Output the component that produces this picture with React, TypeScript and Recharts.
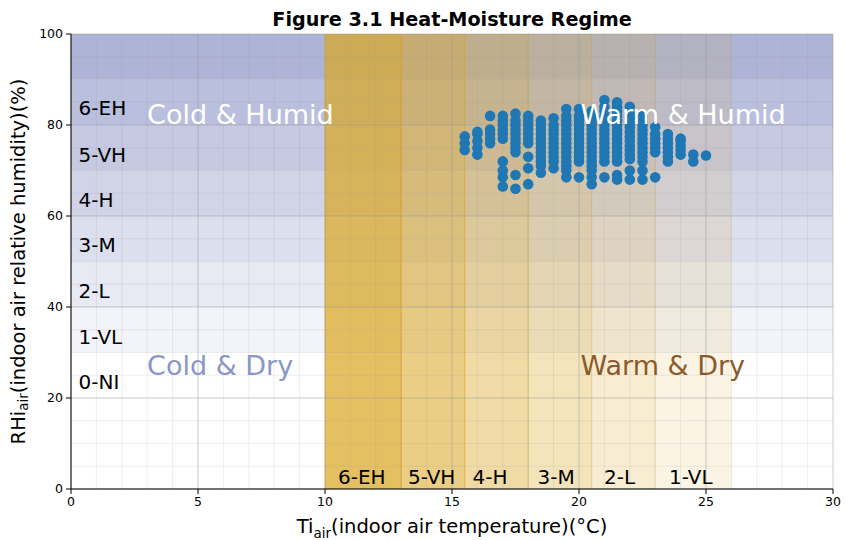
import React from 'react';
import {
  ComposedChart, Scatter, XAxis, YAxis, ReferenceArea, ReferenceLine,
} from 'recharts';

const FONT = '"DejaVu Sans", sans-serif';

// Scatter data: one column of RH readings per temperature
const temps = [15.5, 16, 16.5, 17, 17.5, 18, 18.5, 19, 19.5, 20, 20.5, 21, 21.5, 22, 22.5, 23, 23.5, 24, 24.5, 25];
const rhColumns = [
  [74.5, 76, 77.5],
  [73.5, 75, 76.5, 78, 78.5],
  [76, 77, 78, 79, 82],
  [66.5, 68.5, 70, 72, 77, 78, 79, 80, 81, 82],
  [66, 69, 74, 75, 76, 77, 78, 79, 80, 81, 82.5],
  [67, 70.5, 73, 76, 77, 78, 79, 80, 81, 82],
  [69.5, 71, 72, 73, 74, 75, 76, 77, 78, 79, 80, 81],
  [70.5, 72, 73, 74, 75, 76, 77, 78, 79, 80, 81.5],
  [68.5, 70, 71, 72, 73, 74, 75, 76, 77, 78, 79, 80, 81, 82, 83.5],
  [68.5, 72, 73, 74, 75, 76, 77, 78, 79, 80, 81, 82, 83.5],
  [67, 68.5, 70, 71, 72, 73, 74, 75, 76, 77, 78, 79, 80, 81, 82, 83],
  [68.5, 72, 73, 74, 75, 76, 77, 78, 79, 80, 81, 82, 83, 84, 85.5],
  [68, 69, 72, 73, 74, 75, 76, 77, 78, 79, 80, 81, 82, 83, 84, 85],
  [68, 70, 72.5, 73.5, 74.5, 75.5, 76.5, 77.5, 78.5, 79.5, 80.5, 81.5, 82.5, 84],
  [68, 70, 72, 73, 74, 75, 76, 77, 78, 79, 80, 81, 82],
  [68.5, 74, 75, 76, 77, 78, 79.5],
  [72, 73, 74, 75, 76, 77, 78],
  [73.5, 74.5, 75.5, 76.5, 77],
  [72, 73.5],
  [73.3],
];

// Humidity bands (RH %) and opacities
const rhBandEdges = [30, 40, 50, 60, 70, 80, 90, 100];
const rhBandAlpha = [0.1, 0.2, 0.3, 0.4, 0.5, 0.6, 0.7];
// Temperature bands (°C) and opacities
const tBandEdges = [10, 13, 15.5, 18, 20.5, 23, 26];
const tBandAlpha = [0.7, 0.55, 0.4, 0.3, 0.2, 0.12];

// Labels
const rhLevelLabels = ['0-NI', '1-VL', '2-L', '3-M', '4-H', '5-VH', '6-EH'];
const rhLevelY = [23.5, 33.4, 43.5, 53.6, 63.5, 73.4, 83.7];
const rhLevelX = 0.3;
const tLevelLabels = ['6-EH', '5-VH', '4-H', '3-M', '2-L', '1-VL'];
const tLevelX = [11.45, 14.2, 16.5, 19.1, 21.6, 24.4];
const tLevelY = 2.6;
const quadLabels = ['Cold & Humid', 'Warm & Humid', 'Cold & Dry', 'Warm & Dry'];
const quadX = [6.67, 24.1, 5.87, 23.3];
const quadY = [82.2, 82.2, 27.2, 27.2];
const quadColors = ['#ffffff', '#ffffff', '#8a96c8', '#8b5a2b'];

const xTicks = [0, 5, 10, 15, 20, 25, 30];
const yTicks = [0, 20, 40, 60, 80, 100];
const xMinor = [0, 1, 2, 3, 4, 5, 6, 7, 8, 9, 10, 11, 12, 13, 14, 15, 16, 17, 18, 19, 20, 21, 22, 23, 24, 25, 26, 27, 28, 29, 30];
const yMinor = [0, 5, 10, 15, 20, 25, 30, 35, 40, 45, 50, 55, 60, 65, 70, 75, 80, 85, 90, 95, 100];

const points = temps.flatMap((t, i) => rhColumns[i].map((rh) => ({ t, rh })));
const leftLabelData = rhLevelLabels.map((text, i) => ({ t: rhLevelX, rh: rhLevelY[i], text }));
const bottomLabelData = tLevelLabels.map((text, i) => ({ t: tLevelX[i], rh: tLevelY, text }));
const quadData = quadLabels.map((text, i) => ({ t: quadX[i], rh: quadY[i], text, color: quadColors[i] }));

const Dot = (p: any) => <circle cx={p.cx} cy={p.cy} r={5.3} fill="#1f77b4" />;

const LeftText = (p: any) => (
  <text x={p.cx} y={p.cy} dominantBaseline="central" textAnchor="start" fontSize={20} fontFamily={FONT} fill="#000">
    {p.payload.text}
  </text>
);
const BottomText = (p: any) => (
  <text x={p.cx} y={p.cy} dominantBaseline="central" textAnchor="middle" fontSize={20} fontFamily={FONT} fill="#000">
    {p.payload.text}
  </text>
);
const QuadText = (p: any) => (
  <text x={p.cx} y={p.cy} dominantBaseline="central" textAnchor="middle" fontSize={27} fontFamily={FONT} fill={p.payload.color}>
    {p.payload.text}
  </text>
);

const XLabel = (props: any) => {
  const vb = props.viewBox;
  return (
    <text x={vb.x + vb.width / 2} y={533} textAnchor="middle" fontSize={19.5} fontFamily={FONT} fill="#000">
      <tspan>Ti</tspan>
      <tspan fontSize={13.5} dy={5}>air</tspan>
      <tspan dy={-5}>(indoor air temperature)(°C)</tspan>
    </text>
  );
};
const YLabel = (props: any) => {
  const vb = props.viewBox;
  const cy = vb.y + vb.height / 2;
  return (
    <text x={18} y={cy} transform={`rotate(-90, 18, ${cy})`} textAnchor="middle" dominantBaseline="central" fontSize={19.5} fontFamily={FONT} fill="#000">
      <tspan>RHi</tspan>
      <tspan fontSize={13.5} dy={5}>air</tspan>
      <tspan dy={-5}>(indoor air relative humidity)(%)</tspan>
    </text>
  );
};

const tickStyle = { fontSize: 12.5, fontFamily: FONT, fill: '#000' };

export default function App() {
  return (
    <div style={{ position: 'absolute', left: 0, top: 0, width: 846, height: 540, background: '#fff' }}>
      <div style={{ position: 'absolute', left: 71, width: 762, top: 8, textAlign: 'center', fontFamily: FONT, fontWeight: 'bold', fontSize: 19.2, color: '#000' }}>
        Figure 3.1 Heat-Moisture Regime
      </div>
      <ComposedChart width={846} height={540} margin={{ top: 34, right: 13, left: 0, bottom: 0 }}>
        <XAxis xAxisId="minor" type="number" dataKey="t" domain={[0, 30]} ticks={xMinor} allowDataOverflow height={0}
          tickSize={3} tickFormatter={() => ''} axisLine={false} tickLine={{ stroke: '#000' }} />
        <XAxis type="number" dataKey="t" domain={[0, 30]} ticks={xTicks} allowDataOverflow height={51}
          tickSize={5} tickMargin={3} tick={tickStyle} axisLine={{ stroke: '#000' }} tickLine={{ stroke: '#000' }}
          label={<XLabel />} />
        <XAxis xAxisId="top" orientation="top" type="number" dataKey="t" domain={[0, 30]} allowDataOverflow height={0}
          tick={false} tickLine={false} axisLine={{ stroke: '#000' }} />
        <YAxis yAxisId="minor" type="number" dataKey="rh" domain={[0, 100]} ticks={yMinor} allowDataOverflow width={0}
          tickSize={3} tickFormatter={() => ''} axisLine={false} tickLine={{ stroke: '#000' }} />
        <YAxis type="number" dataKey="rh" domain={[0, 100]} ticks={yTicks} allowDataOverflow width={71}
          tickSize={5} tickMargin={3} tick={tickStyle} axisLine={{ stroke: '#000' }} tickLine={{ stroke: '#000' }}
          label={<YLabel />} />
        <YAxis yAxisId="right" orientation="right" type="number" dataKey="rh" domain={[0, 100]} allowDataOverflow width={0}
          tick={false} tickLine={false} axisLine={{ stroke: '#000' }} />

        {rhBandAlpha.map((a, i) => (
          <ReferenceArea key={'h' + i} y1={rhBandEdges[i]} y2={rhBandEdges[i + 1]} fill="#8b94c4" fillOpacity={a} stroke="none" ifOverflow="hidden" />
        ))}
        {tBandAlpha.map((a, i) => (
          <ReferenceArea key={'v' + i} x1={tBandEdges[i]} x2={tBandEdges[i + 1]} y1={0} y2={100} fill="#daa520" fillOpacity={a}
            stroke="#daa520" strokeOpacity={a * 0.8} ifOverflow="hidden" />
        ))}
        {xMinor.map((v) => (
          <ReferenceLine key={'gx' + v} x={v} stroke="#999" strokeOpacity={v % 5 === 0 ? 0.5 : 0.2} strokeWidth={v % 5 === 0 ? 1 : 0.8} />
        ))}
        {yMinor.map((v) => (
          <ReferenceLine key={'gy' + v} y={v} stroke="#999" strokeOpacity={v % 20 === 0 ? 0.5 : 0.2} strokeWidth={v % 20 === 0 ? 1 : 0.8} />
        ))}

        <Scatter data={points} dataKey="rh" shape={<Dot />} isAnimationActive={false} />
        <Scatter data={leftLabelData} dataKey="rh" shape={<LeftText />} isAnimationActive={false} />
        <Scatter data={bottomLabelData} dataKey="rh" shape={<BottomText />} isAnimationActive={false} />
        <Scatter data={quadData} dataKey="rh" shape={<QuadText />} isAnimationActive={false} />
      </ComposedChart>
    </div>
  );
}
